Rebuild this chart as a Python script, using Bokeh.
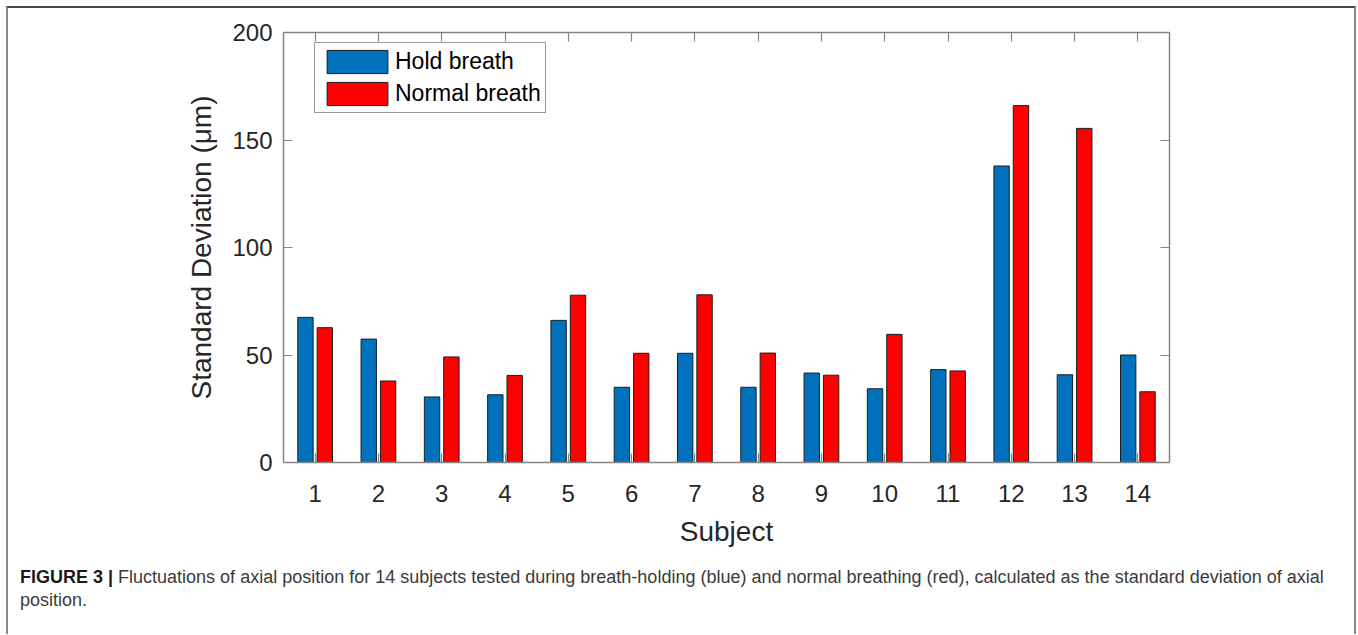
from bokeh.plotting import figure
from bokeh.layouts import column
from bokeh.models import (Range1d, LinearAxis, FixedTicker, CustomJSTickFormatter,
                          ColumnDataSource, Div)
from bokeh.embed import file_html
from bokeh.resources import INLINE

# Standard deviation of axial position per subject (µm)
subjects = list(range(1, 15))
hold_breath = [67.5, 57.4, 30.5, 31.5, 66.1, 35.0, 50.8, 35.0, 41.6, 34.3, 43.2, 137.9, 40.8, 50.0]
normal_breath = [62.7, 37.9, 49.1, 40.5, 77.8, 50.8, 78.0, 50.9, 40.6, 59.6, 42.6, 166.0, 155.4, 32.9]
y_ticks = [0, 50, 100, 150, 200]

caption_bold = "FIGURE 3 |"
caption_line1 = ("Fluctuations of axial position for 14 subjects tested during breath-holding (blue) "
                 "and normal breathing (red), calculated as the standard deviation of axial")
caption_line2 = "position."

BLUE = "#0072BD"
RED = "#FF0000"
AXIS_GREY = "#858585"
TEXT = "#262626"
FONT = "Liberation Sans"

offset = 0.153
bar_w = 0.243

src = ColumnDataSource(dict(
    x_hold=[s - offset for s in subjects],
    x_norm=[s + offset for s in subjects],
    hold=hold_breath,
    norm=normal_breath,
))

p = figure(width=1346, height=546,
           x_range=Range1d(0.5, 14.5), y_range=Range1d(0, 200),
           output_backend="svg", toolbar_location=None,
           min_border_left=275, min_border_right=185,
           min_border_top=24, min_border_bottom=92,
           x_axis_label="Subject", y_axis_label="Standard Deviation (μm)")
p.grid.visible = False
p.outline_line_color = None
p.background_fill_color = "white"
p.border_fill_color = "white"

p.vbar(x="x_hold", top="hold", width=bar_w, source=src, fill_color=BLUE,
       line_color="#1e1e1e", line_width=1, legend_label="Hold breath")
p.vbar(x="x_norm", top="norm", width=bar_w, source=src, fill_color=RED,
       line_color="#1e1e1e", line_width=1, legend_label="Normal breath")

blank = CustomJSTickFormatter(code="return ''")
p.add_layout(LinearAxis(formatter=blank), "above")
p.add_layout(LinearAxis(formatter=blank), "right")

for ax in p.xaxis:
    ax.ticker = FixedTicker(ticks=subjects)
for ax in p.yaxis:
    ax.ticker = FixedTicker(ticks=y_ticks)

for ax in p.axis:
    ax.axis_line_color = AXIS_GREY
    ax.axis_line_width = 1.5
    ax.major_tick_line_color = AXIS_GREY
    ax.major_tick_line_width = 1.2
    ax.major_tick_in = 9
    ax.major_tick_out = 0
    ax.minor_tick_line_color = None
    ax.major_label_text_font = FONT
    ax.major_label_text_font_size = "24px"
    ax.major_label_text_color = TEXT
    ax.axis_label_text_font = FONT
    ax.axis_label_text_font_size = "28px"
    ax.axis_label_text_font_style = "normal"
    ax.axis_label_text_color = TEXT

bottom_axis = p.below[0]
bottom_axis.major_label_standoff = 22
bottom_axis.axis_label_standoff = 11
left_axis = p.left[0]
left_axis.major_label_standoff = 11
left_axis.axis_label_standoff = 12

leg = p.legend[0]
leg.location = (31, 349)
leg.padding = 4
leg.spacing = 3
leg.margin = 0
leg.glyph_width = 76
leg.glyph_height = 29
leg.label_height = 29
leg.label_standoff = 0
leg.label_text_font = FONT
leg.label_text_font_size = "23px"
leg.label_text_color = "black"
leg.border_line_color = "#333333"
leg.border_line_width = 1
leg.background_fill_color = "white"
leg.background_fill_alpha = 1.0

# Figure caption
caption = Div(
    text=(f'<span style="font-weight:bold;color:#1a1a1a">{caption_bold}</span> '
          f'{caption_line1}<br>{caption_line2}'),
    width=1346, height=80, margin=0,
    styles={"font-family": FONT, "font-size": "18px", "line-height": "23px",
            "color": "#3a3a3a", "padding-left": "12px", "padding-top": "12px",
            "white-space": "nowrap", "box-sizing": "border-box"},
)

page = column(p, caption, margin=(6, 0, 0, 6), spacing=0,
              styles={"border-top": "2px solid #474747",
                      "border-left": "2px solid #8a8a8a",
                      "border-right": "2px solid #8a8a8a"})

open("out.html", "w").write(file_html(page, INLINE))
